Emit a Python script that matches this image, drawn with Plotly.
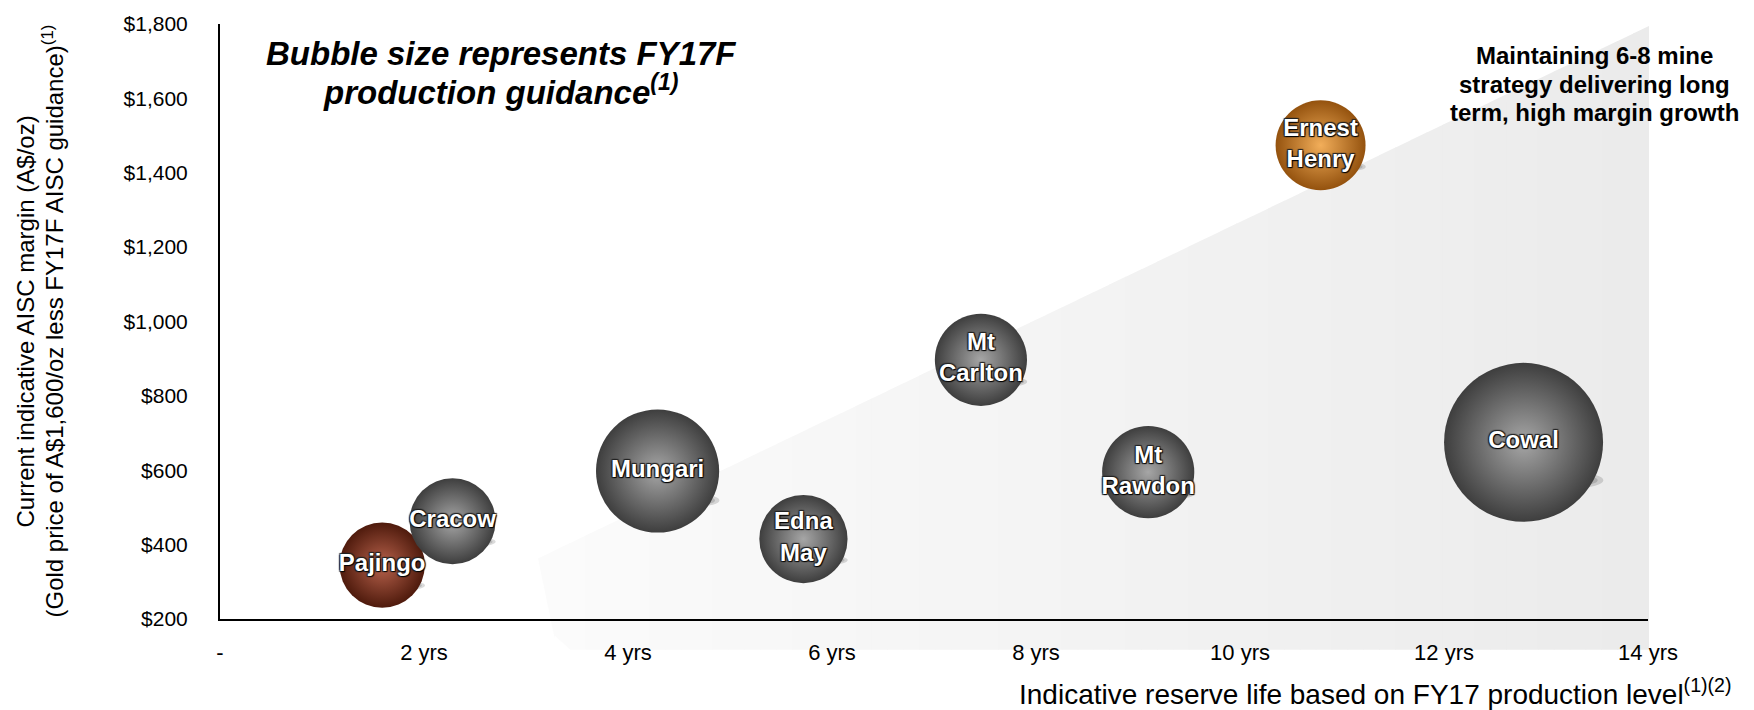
import math
import plotly.graph_objects as go

# ---- data ----
mines = ["Pajingo", "Cracow", "Mungari", "Edna May", "Mt Carlton", "Mt Rawdon", "Ernest Henry", "Cowal"]
labels = ["Pajingo", "Cracow", "Mungari", "Edna<br>May", "Mt<br>Carlton", "Mt<br>Rawdon", "Ernest<br>Henry", "Cowal"]
reserve_life_yrs = [1.59, 2.28, 4.29, 5.72, 7.46, 9.10, 10.79, 12.78]
aisc_margin = [345, 463, 598, 415, 897, 595, 1474, 675]
production_koz = [72, 73, 150, 77, 84, 84, 80, 250]
edge_colors = ["#4e1a0c", "#3e3e3e", "#3e3e3e", "#3e3e3e", "#3e3e3e", "#3e3e3e", "#94520e", "#3e3e3e"]
center_colors = ["#b8624c", "#a6a6a6", "#a6a6a6", "#a6a6a6", "#a6a6a6", "#a6a6a6", "#f2ae5a", "#a6a6a6"]

x_tickvals = [0, 2, 4, 6, 8, 10, 12, 14]
x_ticktext = ["-", "2 yrs", "4 yrs", "6 yrs", "8 yrs", "10 yrs", "12 yrs", "14 yrs"]
y_tickvals = [200, 400, 600, 800, 1000, 1200, 1400, 1600, 1800]
y_ticktext = ["$200", "$400", "$600", "$800", "$1,000", "$1,200", "$1,400", "$1,600", "$1,800"]

FONT = "Liberation Sans, Arial, sans-serif"
W, H = 1754, 710
L, R, T, B = 220, 106, 20, 91
PW, PH = W - L - R, H - T - B
MAX_BUBBLE_PX = 159
X_RANGE = [0, 14]
Y_RANGE = [200, 1800]
SIZEREF = 2.0 * max(production_koz) / (MAX_BUBBLE_PX ** 2)

def px(x):
    return (x - L) / PW

def py(y):
    return (H - B - y) / PH

fig = go.Figure()

fig.add_trace(go.Scatter(
    x=reserve_life_yrs, y=aisc_margin, mode="markers+text",
    text=labels, textposition="middle center",
    textfont=dict(family=FONT, size=24, color="white", weight="bold",
                  shadow="1px 1px 1px #000, -1px -1px 1px #222, 1px -1px 1px #222, -1px 1px 1px #222"),
    marker=dict(size=production_koz, sizemode="area", sizeref=SIZEREF,
                color=edge_colors, opacity=1,
                gradient=dict(type="radial", color=center_colors),
                line=dict(width=0)),
    cliponaxis=False, hoverinfo="text", hovertext=mines, showlegend=False,
))

shapes = []

# background wedge (gradient via slices), pixel geometry -> paper coords
Ax, Ay = 538, 558
Bx, By = 1649, 22
Dx, Dy = 557, 650
N = 70
def top(x):
    return Ay + (x - Ax) * (By - Ay) / (Bx - Ax)
def bot(x):
    if x <= Dx:
        return Ay + (x - Ax) * (Dy - Ay) / (Dx - Ax)
    return Dy
for i in range(N):
    x0 = Ax + (Bx - Ax) * i / N
    x1 = min(Bx, Ax + (Bx - Ax) * (i + 1) / N + 0.8)
    t = i / (N - 1)
    g = int(round(251 - 16 * t))
    col = f"rgb({g},{g},{g})"
    path = (f"M {px(x0)},{py(top(x0))} L {px(x1)},{py(top(x1))} "
            f"L {px(x1)},{py(bot(x1))} L {px(x0)},{py(bot(x0))} Z")
    shapes.append(dict(type="path", path=path, xref="paper", yref="paper",
                       fillcolor=col, line=dict(width=0), layer="below"))

# soft drop shadows derived from each bubble's position and size
x_per_px = (X_RANGE[1] - X_RANGE[0]) / PW
y_per_px = (Y_RANGE[1] - Y_RANGE[0]) / PH
for xv, yv, sv in zip(reserve_life_yrs, aisc_margin, production_koz):
    r = math.sqrt(sv / SIZEREF) / 2.0
    cx = xv + 0.92 * r * x_per_px
    cy = yv - 0.68 * r * y_per_px
    for hw, hh in [(0.50, 0.14), (0.40, 0.10), (0.30, 0.07)]:
        shapes.append(dict(type="circle", xref="x", yref="y",
                           x0=cx - hw * r * x_per_px, x1=cx + hw * r * x_per_px,
                           y0=cy - hh * r * y_per_px, y1=cy + hh * r * y_per_px,
                           fillcolor="rgba(0,0,0,0.14)", line=dict(width=0), layer="below"))

def ann(text, x, y, size, xanchor="center", angle=0):
    return dict(text=text, x=x, y=y, xref="paper", yref="paper", showarrow=False,
                xanchor=xanchor, yanchor="middle", align="center", textangle=angle,
                font=dict(family=FONT, size=size, color="black"))

annotations = [
    ann("<b><i>Bubble size represents FY17F</i></b>", px(501), py(50), 33),
    ann("<b><i>production guidance<sup>(1)</sup></i></b>", px(501), py(86), 33),
    ann("<b>Maintaining 6-8 mine</b>", px(1594), py(52), 24),
    ann("<b>strategy delivering long</b>", px(1594), py(81), 24),
    ann("<b>term, high margin growth</b>", px(1594), py(109), 24),
    ann("Indicative reserve life based on FY17 production level<sup>(1)(2)</sup>",
        px(1734), py(692), 28, xanchor="right"),
    ann("Current indicative AISC margin (A$/oz)", px(25), 0.5, 24, angle=-90),
    ann("(Gold price of A$1,600/oz less FY17F AISC guidance)<sup>(1)</sup>", px(52), 0.5, 24, angle=-90),
]

fig.update_layout(
    width=W, height=H,
    margin=dict(l=L, r=R, t=T, b=B, pad=0),
    paper_bgcolor="white", plot_bgcolor="rgba(0,0,0,0)",
    shapes=shapes, annotations=annotations,
    font=dict(family=FONT, size=20, color="black"),
    xaxis=dict(range=X_RANGE, tickvals=x_tickvals, ticktext=x_ticktext,
               showgrid=False, zeroline=False, showline=True, linecolor="black", linewidth=2,
               ticks="outside", ticklen=0, ticklabelstandoff=13,
               tickfont=dict(family=FONT, size=22, color="black"), fixedrange=True),
    yaxis=dict(range=Y_RANGE, tickvals=y_tickvals, ticktext=y_ticktext,
               showgrid=False, zeroline=False, showline=True, linecolor="black", linewidth=2,
               ticks="outside", ticklen=0, ticklabelstandoff=26,
               tickfont=dict(family=FONT, size=21, color="black"), fixedrange=True),
)

fig.write_html("out.html", config={"displayModeBar": False},
               post_script="document.body.style.margin='0';")
